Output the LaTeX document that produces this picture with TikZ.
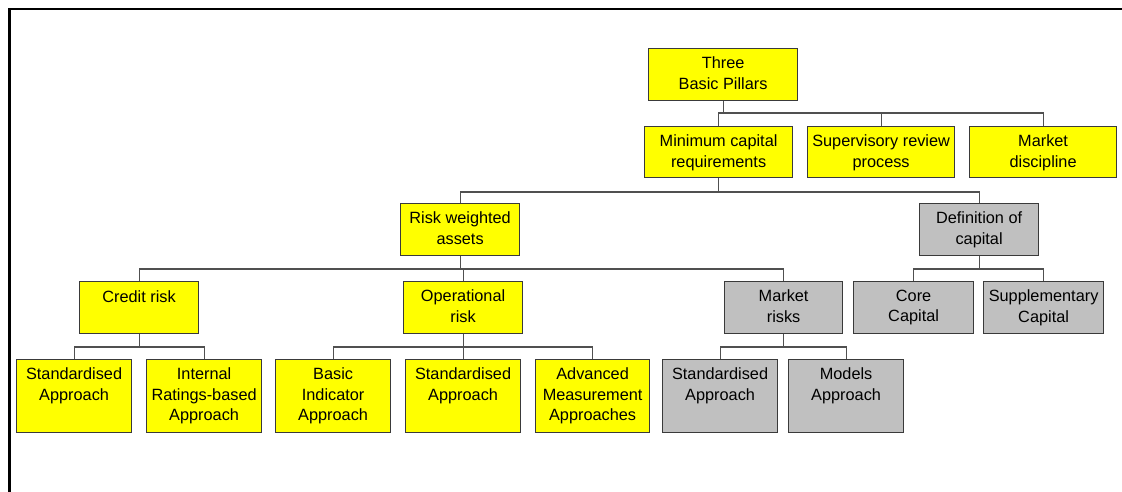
\documentclass[tikz,border=0pt]{standalone}
\usepackage{fontspec}
\setmainfont{Liberation Sans}
\definecolor{boxyellow}{HTML}{FFFF00}
\definecolor{boxgray}{HTML}{C0C0C0}
\definecolor{edgegray}{HTML}{3A3A3A}
\definecolor{linkgray}{HTML}{505050}
\begin{document}
\begin{tikzpicture}[x=1pt,y=-1pt,
  box/.style={draw=edgegray, line width=1.2pt, anchor=north west, inner sep=0pt},
  ybox/.style={box, fill=boxyellow},
  gbox/.style={box, fill=boxgray},
  txt/.style={anchor=north, yshift=-8.5pt, inner sep=0pt, align=center,
    font=\fontsize{16.3}{20.7}\selectfont,
    execute at begin node={\rule{0pt}{13pt}}},
  link/.style={draw=linkgray, line width=1.1pt}]
\useasboundingbox (0,0) rectangle (1122,491);

% outer frame (top and left edges)
\draw[line width=2.5pt, line cap=rect] (9.3,491) -- (9.3,9.2) -- (1122,9.2);

% row 1
\node[ybox, minimum width=149pt, minimum height=52pt] (top) at (648,48) {};
% row 2
\node[ybox, minimum width=148pt, minimum height=51pt] (mincap) at (644,126) {};
\node[ybox, minimum width=147pt, minimum height=51pt] (sup) at (807,126) {};
\node[ybox, minimum width=147pt, minimum height=51pt] (disc) at (969,126) {};
% row 3
\node[ybox, minimum width=119pt, minimum height=52pt] (rwa) at (400,203) {};
\node[gbox, minimum width=119pt, minimum height=52pt] (def) at (919,203) {};
% row 4
\node[ybox, minimum width=119pt, minimum height=52pt] (cred) at (79,281) {};
\node[ybox, minimum width=119pt, minimum height=52pt] (oper) at (403,281) {};
\node[gbox, minimum width=118pt, minimum height=52pt] (mrisk) at (724,281) {};
\node[gbox, minimum width=120pt, minimum height=52pt] (core) at (853,281) {};
\node[gbox, minimum width=120pt, minimum height=52pt] (supp) at (983,281) {};
% row 5
\node[ybox, minimum width=115pt, minimum height=73pt] (sa1) at (16,359) {};
\node[ybox, minimum width=115pt, minimum height=73pt] (irb) at (146,359) {};
\node[ybox, minimum width=115pt, minimum height=73pt] (bia) at (275,359) {};
\node[ybox, minimum width=115pt, minimum height=73pt] (sa2) at (405,359) {};
\node[ybox, minimum width=114pt, minimum height=73pt] (ama) at (535,359) {};
\node[gbox, minimum width=115pt, minimum height=73pt] (sa3) at (662,359) {};
\node[gbox, minimum width=115pt, minimum height=73pt] (mod) at (788,359) {};

% labels, top-aligned in their boxes
\node[txt] (top-t) at (top.north) {Three\\Basic Pillars};
\node[txt] (mincap-t) at (mincap.north) {Minimum capital\\requirements};
\node[txt] (sup-t) at (sup.north) {Supervisory review\\process};
\node[txt] (disc-t) at (disc.north) {Market\\discipline};
\node[txt] (rwa-t) at (rwa.north) {Risk weighted\\assets};
\node[txt] (def-t) at (def.north) {Definition of\\capital};
\node[txt] (cred-t) at (cred.north) {Credit risk};
\node[txt] (oper-t) at (oper.north) {Operational\\risk};
\node[txt] (mrisk-t) at (mrisk.north) {Market\\risks};
\node[txt] (core-t) at (core.north) {Core\\Capital};
\node[txt] (supp-t) at (supp.north) {Supplementary\\Capital};
\node[txt] (sa1-t) at (sa1.north) {Standardised\\Approach};
\node[txt] (irb-t) at (irb.north) {Internal\\Ratings-based\\Approach};
\node[txt] (bia-t) at (bia.north) {Basic\\Indicator\\Approach};
\node[txt] (sa2-t) at (sa2.north) {Standardised\\Approach};
\node[txt] (ama-t) at (ama.north) {Advanced\\Measurement\\Approaches};
\node[txt] (sa3-t) at (sa3.north) {Standardised\\Approach};
\node[txt] (mod-t) at (mod.north) {Models\\Approach};

% bus levels of the connectors
\coordinate (b1) at (0,113);
\coordinate (b2) at (0,192);
\coordinate (b3) at (0,269);
\coordinate (b4) at (0,347);

% three pillars
\draw[link] (top.south) -- (top.south |- b1);
\draw[link] (mincap.north) -- (mincap.north |- b1) -- (disc.north |- b1) -- (disc.north);
\draw[link] (sup.north) -- (sup.north |- b1);
% minimum capital requirements
\draw[link] (mincap.south) -- (mincap.south |- b2);
\draw[link] (rwa.north) -- (rwa.north |- b2) -- (def.north |- b2) -- (def.north);
% risk weighted assets
\draw[link] (rwa.south) -- (rwa.south |- b3);
\draw[link] (cred.north) -- (cred.north |- b3) -- (mrisk.north |- b3) -- (mrisk.north);
\draw[link] (oper.north) -- (oper.north |- b3);
% definition of capital
\draw[link] (def.south) -- (def.south |- b3);
\draw[link] (core.north) -- (core.north |- b3) -- (supp.north |- b3) -- (supp.north);
% credit risk
\draw[link] (cred.south) -- (cred.south |- b4);
\draw[link] (sa1.north) -- (sa1.north |- b4) -- (irb.north |- b4) -- (irb.north);
% operational risk
\draw[link] (oper.south) -- (oper.south |- b4);
\draw[link] (bia.north) -- (bia.north |- b4) -- (ama.north |- b4) -- (ama.north);
\draw[link] (sa2.north) -- (sa2.north |- b4);
% market risks
\draw[link] (mrisk.south) -- (mrisk.south |- b4);
\draw[link] (sa3.north) -- (sa3.north |- b4) -- (mod.north |- b4) -- (mod.north);
\end{tikzpicture}
\end{document}
